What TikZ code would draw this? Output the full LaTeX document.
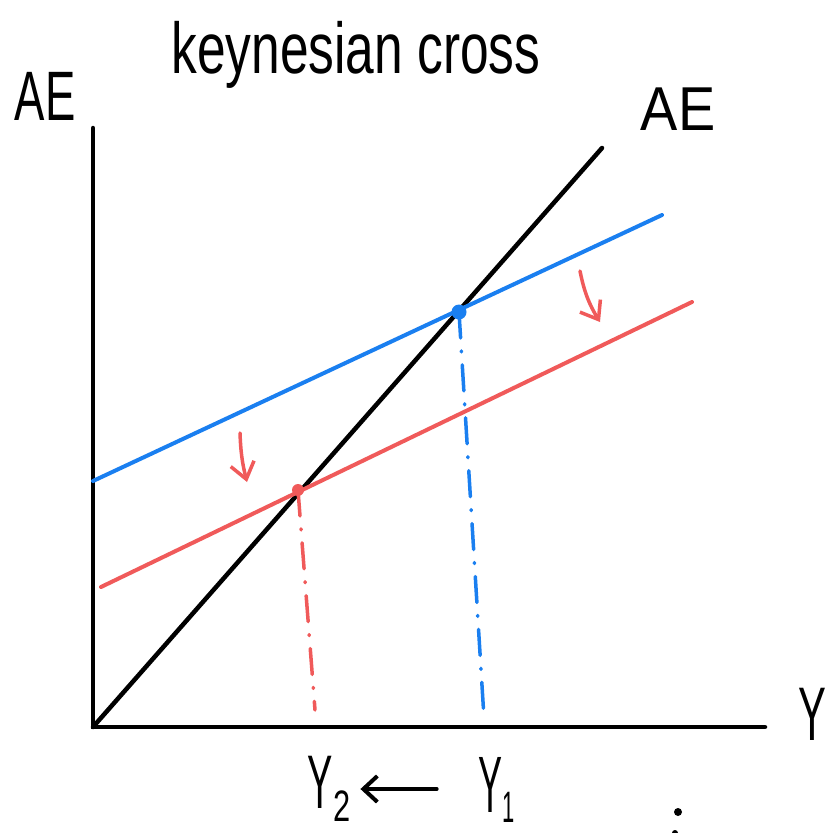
\documentclass[tikz,border=0pt]{standalone}
\usepackage{fontspec}
\setmainfont{Liberation Sans}
\usepackage{graphicx}
\usetikzlibrary{arrows.meta}
\definecolor{bblue}{HTML}{1A7FF0}
\definecolor{bred}{HTML}{F05A5A}
\tikzstyle{axisline} = [draw, line width=4.5pt, line cap=round]
\tikzstyle{bluecurve} = [draw, bblue, line width=4pt, line cap=round]
\tikzstyle{redcurve} = [draw, bred, line width=4pt, line cap=round]
\tikzstyle{dropline} = [draw, line width=3.5pt, line cap=round, dash pattern=on 26pt off 13pt on 1pt off 13pt]
\tikzstyle{dropmark} = [draw, bred, line width=3.5pt, line cap=round, -{Straight Barb[length=16pt, width=24pt, line width=3.5pt]}]
\tikzstyle{lbl} = [inner sep=0pt, anchor=base]
\newcommand{\hand}[3]{{\fontsize{#1}{#1}\selectfont\scalebox{#2}[1]{#3}}}

\begin{document}
\begin{tikzpicture}[x=1pt, y=-1pt]
    \useasboundingbox (0,0) rectangle (829,833);

    % axes
    \coordinate (origin) at (93,727);
    \coordinate (ytop) at (93,128);
    \coordinate (xend) at (765,727);
    \coordinate (aeend) at (602,148);
    \path[axisline] (ytop) -- (origin) -- (xend);
    \path[axisline] (origin) -- (aeend);

    % expenditure lines
    \coordinate (bl0) at (93,481);
    \coordinate (bl1) at (662,215);
    \coordinate (rd0) at (101,587);
    \coordinate (rd1) at (692,302);
    \path[bluecurve] (bl0) -- (bl1);
    \path[redcurve] (rd0) -- (rd1);

    % equilibria
    \coordinate (eq1) at (459,312);
    \coordinate (eq2) at (298,490);
    \coordinate (ft1) at (484,718);
    \coordinate (ft2) at (315,710);
    \path[dropline, bblue] (eq1) -- (ft1);
    \path[dropline, bred] (eq2) -- (ft2);
    \fill[bblue] (eq1) circle (7.5);
    \fill[bred] (eq2) circle (6);

    % shifts
    \coordinate (sa0) at (580,271);
    \coordinate (sa1) at (600,322);
    \coordinate (sb0) at (240,433);
    \coordinate (sb1) at (247,482);
    \path[dropmark] (sa0) to [bend right=10] (sa1);
    \path[dropmark] (sb0) to [bend right=6] (sb1);

    % labels
    \node[lbl] at (356,73) (title) {\hand{72}{0.715}{keynesian cross}};
    \node[lbl] at (45,120) (aey) {\hand{70}{0.65}{AE}};
    \node[lbl] at (678,130) (aeline) {\hand{62}{0.9}{AE}};
    \node[lbl] at (812,740) (ylab) {\hand{76}{0.55}{Y}};
    \node[lbl] at (329,808) (y2) {\hand{76}{0.5}{Y}\raisebox{-13pt}{\hand{44}{0.7}{2}}};
    \node[lbl] at (497,812) (y1) {\hand{80}{0.45}{Y}\raisebox{-10pt}{\hand{44}{0.5}{1}}};
    \coordinate (arow) at (400,789);
    \path[draw, line width=4pt, line cap=round, shorten <=42pt, shorten >=10pt,
        -{Straight Barb[length=14pt, width=26pt, line width=4pt]}]
        (y1.west |- arow) -- (y2.east |- arow);
    \fill (678,812) circle (4);
    \fill (675,833) circle (3);
\end{tikzpicture}
\end{document}
